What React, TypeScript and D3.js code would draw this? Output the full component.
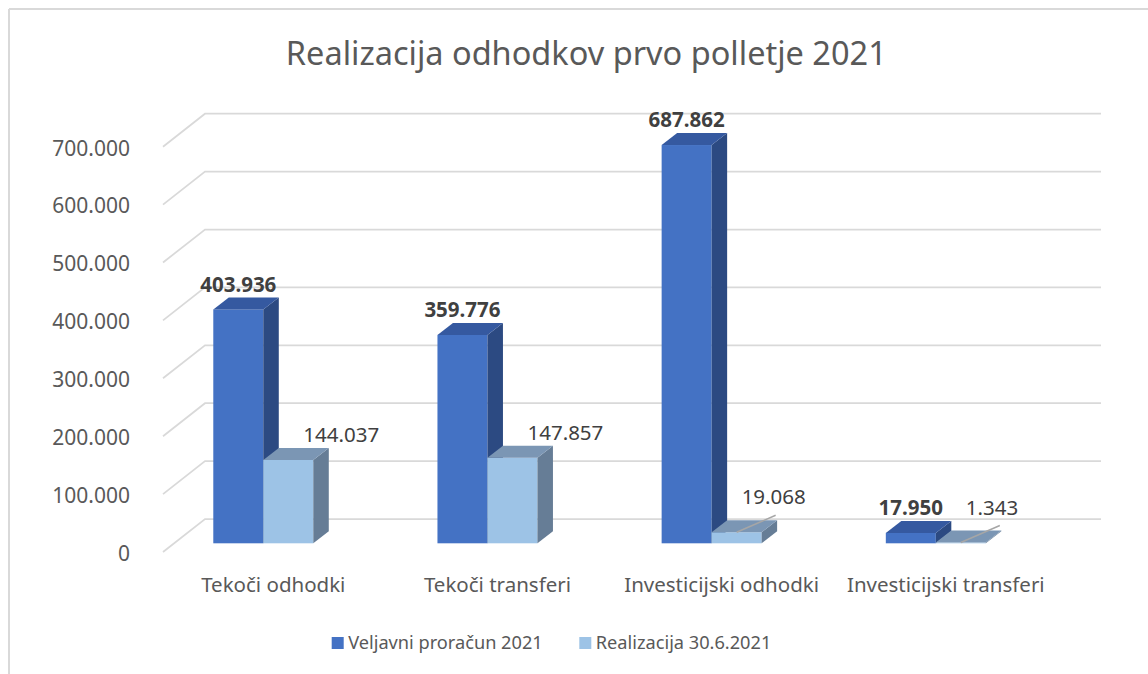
import React from "react";
import * as d3 from "d3";

const categories = ["Tekoči odhodki", "Tekoči transferi", "Investicijski odhodki", "Investicijski transferi"];
const budget = [403936, 359776, 687862, 17950];
const realized = [144037, 147857, 19068, 1343];
const seriesNames = ["Veljavni proračun 2021", "Realizacija 30.6.2021"];
const yTicks = [0, 100000, 200000, 300000, 400000, 500000, 600000, 700000];
const titleText = "Realizacija odhodkov prvo polletje 2021";

const FONT = "'Noto Sans', 'Open Sans', sans-serif";
const W = 1148, H = 674;

const colors = [
  { front: "#4472C4", top: "#3559A0", side: "#2C4A82" },
  { front: "#9DC3E6", top: "#7B96B4", side: "#667D96" },
];

const loc = d3.formatLocale({ decimal: ",", thousands: ".", grouping: [3], currency: ["", "€"] });
const fmt = loc.format(",d");

export default function App() {
  // back wall geometry
  const wallLeft = 205, wallRight = 1101, wallBase = 519;
  const floorDx = -42, floorDy = 33;
  // bar front plane
  const barBase = 543.3;
  const ddx = 15.5, ddy = -12;

  const h = d3.scaleLinear().domain([0, 700000]).range([0, 405.3]);
  const x0 = d3.scaleBand<string>().domain(categories).range([151.2, 1047.9]).padding(0);
  const pairW = 100;

  const series = [budget, realized];

  const bars: any[] = [];
  categories.forEach((c, i) => {
    const center = (x0(c) as number) + x0.bandwidth() / 2;
    const x1 = d3.scaleBand<number>().domain([0, 1]).range([center - pairW / 2, center + pairW / 2]);
    [0, 1].forEach((s) => {
      const v = series[s][i];
      const bx = x1(s) as number;
      const bw = x1.bandwidth();
      const bh = h(v);
      bars.push({ c, i, s, v, bx, bw, bh, center });
    });
  });

  return (
    <svg width={W} height={H} style={{ position: "fixed", left: 0, top: 0, background: "#fff" }} fontFamily={FONT}>
      <rect x={0} y={0} width={W} height={H} fill="#fff" />
      {/* outer border */}
      <line x1={9} y1={9} x2={W} y2={9} stroke="#d9d9d9" strokeWidth={2} />
      <line x1={9} y1={9} x2={9} y2={H} stroke="#d9d9d9" strokeWidth={2} />

      <text x={586.3} y={65} textAnchor="middle" fontSize={32.5} fill="#595959">{titleText}</text>

      {/* gridlines */}
      {yTicks.map((t) => {
        const yb = wallBase - h(t);
        return (
          <g key={t}>
            <polyline
              points={`${wallLeft + floorDx},${yb + floorDy} ${wallLeft},${yb} ${wallRight},${yb}`}
              fill="none" stroke="#d9d9d9" strokeWidth={1.75}
            />
            <text x={130} y={yb + floorDy + 1.5} dy="0.35em" textAnchor="end" fontSize={21} fill="#595959">
              {fmt(t)}
            </text>
          </g>
        );
      })}

      {/* bars */}
      {bars.map((b) => {
        const col = colors[b.s];
        const yt = barBase - b.bh;
        const { bx, bw } = b;
        return (
          <g key={`${b.i}-${b.s}`}>
            <rect x={bx} y={yt} width={bw} height={b.bh} fill={col.front} />
            <polygon
              points={`${bx + bw},${yt} ${bx + bw + ddx},${yt + ddy} ${bx + bw + ddx},${barBase + ddy} ${bx + bw},${barBase}`}
              fill={col.side}
            />
            <polygon
              points={`${bx},${yt} ${bx + ddx},${yt + ddy} ${bx + bw + ddx},${yt + ddy} ${bx + bw},${yt}`}
              fill={col.top}
            />
          </g>
        );
      })}

      {/* data labels */}
      {bars.map((b) => {
        const yt = barBase - b.bh;
        const topBack = yt + ddy;
        if (b.s === 0) {
          return (
            <text key={`l${b.i}-${b.s}`} x={b.bx + b.bw / 2} y={topBack - 13} dy="0.35em" textAnchor="middle"
              fontSize={20.5} fontWeight="bold" fill="#404040">
              {fmt(b.v)}
            </text>
          );
        }
        const small = b.bh < 15;
        const lx = b.bx + b.bw - (small ? 20 : 10);
        const ly = topBack - 13 - (small ? 10 : 0);
        return (
          <g key={`l${b.i}-${b.s}`}>
            <text x={lx} y={ly} dy="0.35em" textAnchor="start" fontSize={20.5} fill="#404040">
              {fmt(b.v)}
            </text>
            {small && (
              <line x1={b.bx + b.bw / 2} y1={yt} x2={lx + 34} y2={ly + 18} stroke="#a6a6a6" strokeWidth={1.5} />
            )}
          </g>
        );
      })}

      {/* category labels */}
      {categories.map((c) => (
        <text key={c} x={(x0(c) as number) + x0.bandwidth() / 2 + 10} y={592} textAnchor="middle" fontSize={20.5} fill="#595959">
          {c}
        </text>
      ))}

      {/* legend */}
      {seriesNames.map((n, i) => {
        const lx = [331.7, 579.3][i];
        return (
          <g key={n}>
            <rect x={lx} y={637} width={12} height={12} fill={colors[i].front} />
            <text x={lx + 16.5} y={643} dy="0.35em" fontSize={18.2} fill="#595959">{n}</text>
          </g>
        );
      })}
    </svg>
  );
}
